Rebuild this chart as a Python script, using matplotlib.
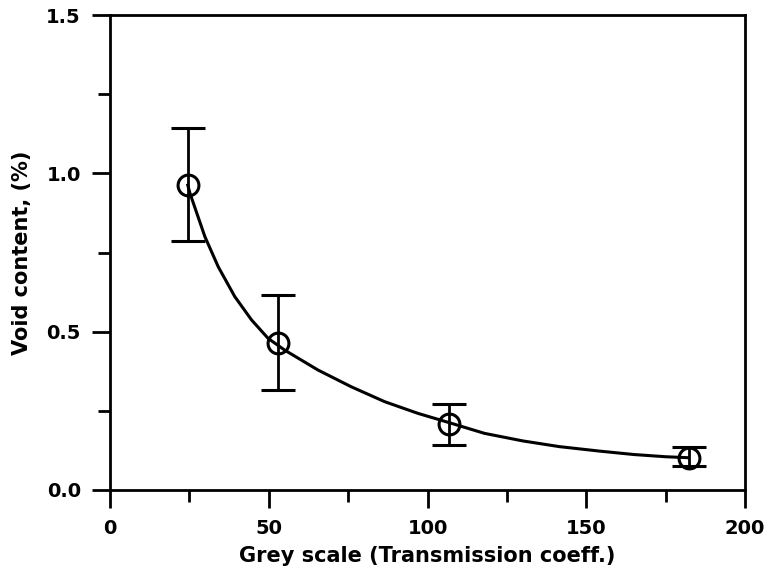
import matplotlib
matplotlib.use("Agg")
import matplotlib.pyplot as plt
from matplotlib.ticker import MultipleLocator, FormatStrFormatter

# measured points (grey scale vs void content) with error bars
grey = [24.5, 52.8, 106.9, 182.4]
void = [0.963, 0.464, 0.208, 0.102]
err_low = [0.786, 0.316, 0.142, 0.076]
err_high = [1.143, 0.616, 0.272, 0.136]

# fitted curve
curve_x = [24.5, 25.2, 29.9, 34.1, 39.3, 44.6, 49.8, 55.0, 65.5, 76.0,
           86.5, 97.0, 107.4, 117.9, 130.0, 141.5, 154.0, 165.0, 175.0, 182.0]
curve_y = [0.963, 0.937, 0.800, 0.705, 0.611, 0.537, 0.479, 0.442, 0.379, 0.326,
           0.279, 0.242, 0.211, 0.179, 0.155, 0.137, 0.123, 0.112, 0.105, 0.102]

yerr = [[v - lo for v, lo in zip(void, err_low)],
        [hi - v for v, hi in zip(void, err_high)]]

plt.rcParams['font.family'] = 'DejaVu Sans'
plt.rcParams['font.weight'] = 'bold'

fig = plt.figure(figsize=(7.66, 5.72), dpi=100)
ax = fig.add_axes([0.1436, 0.1434, 0.829, 0.830])

ax.plot(curve_x, curve_y, color='black', linewidth=2.2)
ax.errorbar(grey, void, yerr=yerr, fmt='o', markersize=15, markerfacecolor='none',
            markeredgecolor='black', markeredgewidth=2.2, ecolor='black',
            elinewidth=2.0, capsize=12, capthick=2.0, color='black')

ax.set_xlim(0, 200)
ax.set_ylim(0, 1.5)
ax.xaxis.set_major_locator(MultipleLocator(50))
ax.xaxis.set_minor_locator(MultipleLocator(25))
ax.yaxis.set_major_locator(MultipleLocator(0.5))
ax.yaxis.set_minor_locator(MultipleLocator(0.25))
ax.yaxis.set_major_formatter(FormatStrFormatter('%.1f'))

ax.tick_params(which='major', direction='out', length=13, width=2.0,
               labelsize=14, pad=8)
ax.tick_params(which='minor', direction='out', length=8.5, width=2.0)
ax.tick_params(top=False, right=False, which='both')

for s in ax.spines.values():
    s.set_linewidth(2.0)

ax.set_xlabel("Grey scale (Transmission coeff.)", fontsize=15, fontweight='bold', labelpad=6)
ax.set_ylabel("Void content, (%)", fontsize=15, fontweight='bold', labelpad=10)

fig.savefig("out.png", dpi=100)
